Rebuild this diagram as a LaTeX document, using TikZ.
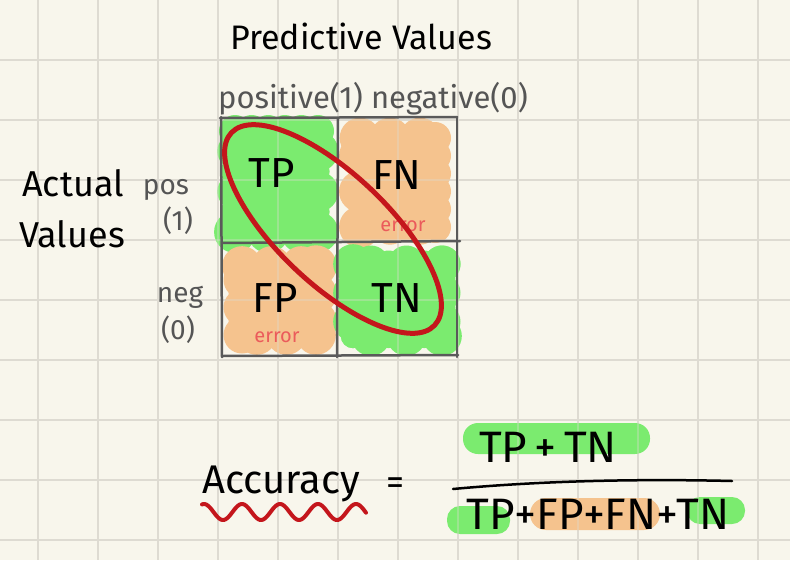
\documentclass[tikz,border=0pt]{standalone}
\usepackage{fontspec}
\setmainfont{Fira Sans}
\definecolor{paper}{HTML}{F8F6EC}
\definecolor{gridc}{HTML}{DEDBD2}
\definecolor{hgreen}{HTML}{7BEB6F}
\definecolor{horange}{HTML}{F5C38E}
\definecolor{dred}{HTML}{C4161C}
\definecolor{errred}{HTML}{EB5B5B}
\definecolor{pencil}{HTML}{555555}
\definecolor{boxline}{HTML}{5A5A5A}
% cloud-like highlighter blob: colour, x1, y1, x2, y2, phase
\newcommand{\blobfill}[6]{%
  \fill[#1] ({#2+14},{#3+14}) rectangle ({#4-14},{#5-14});
  \foreach \f in {0,0.2,0.4,0.6,0.8,1}{
    \pgfmathsetmacro\ra{16+5*sin(\f*900+#6)}
    \pgfmathsetmacro\rb{16+5*sin(\f*900+#6+100)}
    \pgfmathsetmacro\rc{16+5*sin(\f*900+#6+200)}
    \pgfmathsetmacro\rd{16+5*sin(\f*900+#6+300)}
    \fill[#1] ({#2+18+\f*(#4-#2-36)},{#3+18}) circle (\ra pt);
    \fill[#1] ({#2+18+\f*(#4-#2-36)},{#5-18}) circle (\rb pt);
    \fill[#1] ({#2+18},{#3+18+\f*(#5-#3-36)}) circle (\rc pt);
    \fill[#1] ({#4-18},{#3+18+\f*(#5-#3-36)}) circle (\rd pt);
  }}
\tikzset{
  gridline/.style={gridc, line width=2pt},
  boxstroke/.style={boxline, line width=2.5pt, line cap=round},
  title/.style={inner sep=0pt, font=\fontsize{34}{36}\selectfont},
  sub/.style={inner sep=0pt, text=pencil, font=\fontsize{31}{33}\selectfont},
  side/.style={inner sep=0pt, font=\fontsize{36}{38}\selectfont},
  lab/.style={inner sep=0pt, text=pencil, font=\fontsize{28}{30}\selectfont},
  cell/.style={inner sep=0pt, font=\fontsize{42}{44}\selectfont},
  err/.style={inner sep=0pt, text=errred, font=\fontsize{20}{22}\selectfont},
  formula/.style={inner sep=0pt, font=\fontsize{44}{46}\selectfont},
}
\begin{document}
\begin{tikzpicture}[x=1pt,y=-1pt]
\useasboundingbox (0,0) rectangle (790,560);
\fill[paper] (0,0) rectangle (790,560);
% notebook grid
\foreach \gx in {38,98,...,758} \draw[gridline] (\gx,0) -- (\gx,560);
\foreach \gy in {59.5,119.5,...,539.5} \draw[gridline] (0,\gy) -- (790,\gy);
% highlighter blobs
\blobfill{hgreen}{217}{113}{336}{250}{0}
\blobfill{horange}{342}{120}{453}{245}{60}
\blobfill{horange}{224}{248}{334}{353}{130}
\blobfill{hgreen}{335}{246}{460}{354}{210}
% formula highlights
\fill[hgreen, rounded corners=15pt] (463,423) rectangle (650,454);
\fill[hgreen, rounded corners=13pt] (447,506) rectangle (510,534);
\fill[horange, rounded corners=16pt] (530,498) rectangle (660,530);
\fill[hgreen, rounded corners=13pt] (687,497) rectangle (745,524);
% faint grid over the highlights
\begin{scope}[opacity=0.35]
\foreach \gx in {38,98,...,758} \draw[gridline] (\gx,100) -- (\gx,560);
\foreach \gy in {119.5,179.5,...,539.5} \draw[gridline] (200,\gy) -- (790,\gy);
\end{scope}
% matrix
\draw[boxstroke] (220,118) -- (457,117);
\draw[boxstroke] (222,243) -- (460,241);
\draw[boxstroke] (222,356) -- (458,355);
\draw[boxstroke] (221,117) -- (222,357);
\draw[boxstroke] (338,118) -- (337,357);
\draw[boxstroke] (457,117) -- (457,357);
% labels
\node[title] (pv) at (361,36) {Predictive Values};
\node[sub] (pn) at (373,99) {positive(1) negative(0)};
\node[side] (act) at (73,183) {Actual};
\node[side] (val) at (72,234) {Values};
\node[lab] (pos) at (166,190) {pos};
\node[lab] (pos1) at (178,221) {(1)};
\node[lab] (neg) at (180,297) {neg};
\node[lab] (neg0) at (178,330) {(0)};
\node[cell] (tp) at (272,173) {TP};
\node[cell] (fn) at (397,175) {FN};
\node[cell] (fp) at (275,298) {FP};
\node[cell] (tn) at (397,298) {TN};
\node[err] (e1) at (403,226) {error};
\node[err] (e2) at (277,337) {error};
% formula
\node[formula, font=\fontsize{40}{42}\selectfont] (acc) at (281,484) {Accuracy};
\node[formula, font=\fontsize{36}{38}\selectfont] (eq) at (395,486) {=};
\node[formula] (num) at (548,447) {TP\,+\,TN};
\node[formula] (den) at (598,514) {TP+FP+FN+TN};
\draw[line width=2.5pt, line cap=round] (453,489) .. controls (550,480) and (650,479) .. (732,481);
\draw[dred, line width=4pt, line cap=round, line join=round]
  plot[domain=202:366, samples=120] (\x, {512-8*cos((\x-204)/38*360)});
% red ellipse
\draw[dred, line width=5pt, rotate around={-43.5:(333,229)}] (333,229) ellipse [x radius=140pt, y radius=55pt];
\end{tikzpicture}
\end{document}
